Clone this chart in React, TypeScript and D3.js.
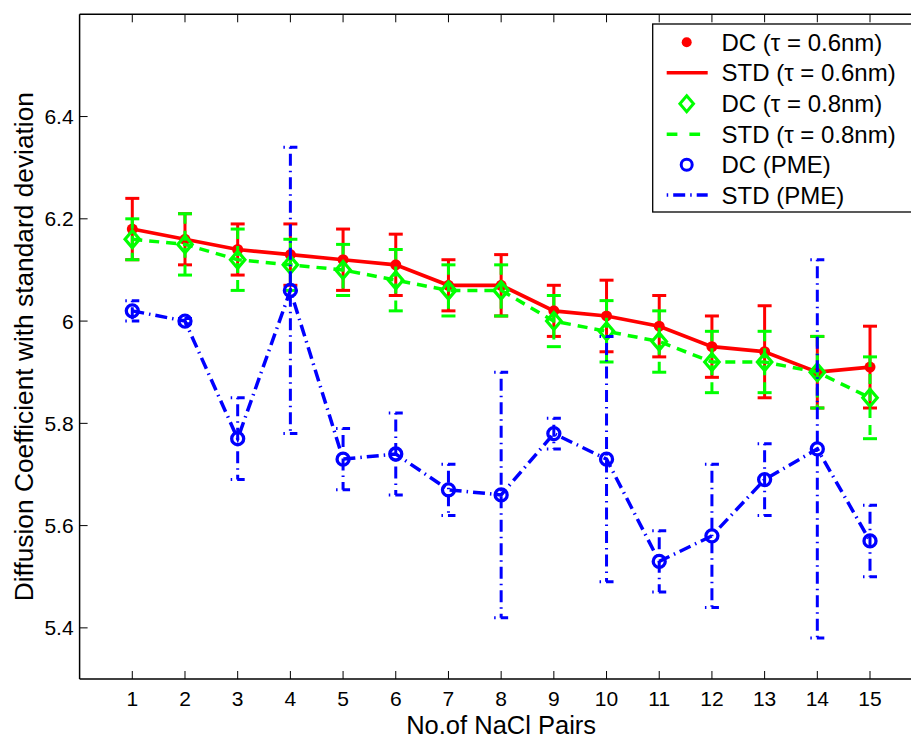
import React from "react";
import * as d3 from "d3";

const W = 911;
const H = 738;

const pairs = [1, 2, 3, 4, 5, 6, 7, 8, 9, 10, 11, 12, 13, 14, 15];
const dc06 = [6.18, 6.16, 6.14, 6.13, 6.12, 6.11, 6.07, 6.07, 6.02, 6.01, 5.99, 5.95, 5.94, 5.9, 5.91];
const std06 = [0.06, 0.05, 0.05, 0.06, 0.06, 0.06, 0.05, 0.06, 0.05, 0.07, 0.06, 0.06, 0.09, 0.07, 0.08];
const dc08 = [6.16, 6.15, 6.12, 6.11, 6.1, 6.08, 6.06, 6.06, 6.0, 5.98, 5.96, 5.92, 5.92, 5.9, 5.85];
const std08 = [0.04, 0.06, 0.06, 0.05, 0.05, 0.06, 0.05, 0.05, 0.05, 0.06, 0.06, 0.06, 0.06, 0.07, 0.08];
const dcPme = [6.02, 6.0, 5.77, 6.06, 5.73, 5.74, 5.67, 5.66, 5.78, 5.73, 5.53, 5.58, 5.69, 5.75, 5.57];
const stdPme = [0.02, 0.005, 0.08, 0.28, 0.06, 0.08, 0.05, 0.24, 0.03, 0.24, 0.06, 0.14, 0.07, 0.37, 0.07];

const yTicks = [5.4, 5.6, 5.8, 6.0, 6.2, 6.4];
const xTicks = [1, 2, 3, 4, 5, 6, 7, 8, 9, 10, 11, 12, 13, 14, 15];

const legendLabels = [
  "DC (τ = 0.6nm)",
  "STD (τ = 0.6nm)",
  "DC (τ = 0.8nm)",
  "STD (τ = 0.8nm)",
  "DC (PME)",
  "STD (PME)",
];

const FONT = "'Liberation Sans', Arial, Helvetica, sans-serif";
const RED = "#ff0000";
const GREEN = "#00ff00";
const BLUE = "#0000ff";
const GREEN_DASH = "10,7";
const BLUE_DASH = "12,5,1.5,5";

const x = d3.scaleLinear().domain([0, 16]).range([79.6, 922.7]);
const y = d3.scaleLinear().domain([5.3, 6.6]).range([679, 14.3]);

const CAP = 7;

function ErrorBars({ vals, errs, color, dash, capDash, offset }: any) {
  return (
    <g stroke={color} strokeWidth={3} fill="none">
      {pairs.map((p, i) => {
        const cx = x(p);
        const yt = y(vals[i] + errs[i]);
        const yb = y(vals[i] - errs[i]);
        return (
          <g key={i}>
            <line x1={cx} x2={cx} y1={yt} y2={yb} strokeDasharray={dash} strokeDashoffset={offset} />
            <line x1={cx - CAP} x2={cx + CAP} y1={yt} y2={yt} strokeDasharray={capDash} strokeDashoffset={offset} />
            <line x1={cx - CAP} x2={cx + CAP} y1={yb} y2={yb} strokeDasharray={capDash} strokeDashoffset={offset} />
          </g>
        );
      })}
    </g>
  );
}

function diamond(cx: number, cy: number, r: number) {
  return `M${cx},${cy - r}L${cx + r * 0.85},${cy}L${cx},${cy + r}L${cx - r * 0.85},${cy}Z`;
}

export default function App() {
  const line = d3
    .line<number>()
    .x((_, i) => x(pairs[i]))
    .y((d) => y(d));

  const legX = 652.7;
  const legTop = 24;
  const legBottom = 212;
  const rowY = [42.3, 72.8, 103.8, 134.3, 164.8, 195];
  const mX = 686.7;
  const l1 = 666.7;
  const l2 = 707.7;
  const tX = 721.5;

  return (
    <svg
      width={W}
      height={H}
      style={{ position: "absolute", left: 0, top: 0, background: "#fff" }}
      fontFamily={FONT}
    >
      <rect x={0} y={0} width={W} height={H} fill="#fff" />

      {/* red series */}
      <ErrorBars vals={dc06} errs={std06} color={RED} />
      <path d={line(dc06) || ""} stroke={RED} strokeWidth={3.7} fill="none" />
      {pairs.map((p, i) => (
        <circle key={"r" + i} cx={x(p)} cy={y(dc06[i])} r={5.5} fill={RED} />
      ))}

      {/* green series */}
      <ErrorBars vals={dc08} errs={std08} color={GREEN} dash={GREEN_DASH} />
      <path d={line(dc08) || ""} stroke={GREEN} strokeWidth={3.5} fill="none" strokeDasharray={GREEN_DASH} />
      {pairs.map((p, i) => (
        <path key={"g" + i} d={diamond(x(p), y(dc08[i]), 8.5)} stroke={GREEN} strokeWidth={3.2} fill="none" />
      ))}

      {/* blue series */}
      <ErrorBars vals={dcPme} errs={stdPme} color={BLUE} dash={BLUE_DASH} capDash={BLUE_DASH} offset={17} />
      <path d={line(dcPme) || ""} stroke={BLUE} strokeWidth={3.5} fill="none" strokeDasharray={BLUE_DASH} />
      {pairs.map((p, i) => (
        <circle key={"b" + i} cx={x(p)} cy={y(dcPme[i])} r={6} stroke={BLUE} strokeWidth={3.3} fill="none" />
      ))}

      {/* axes box */}
      <g stroke="#000" fill="none">
        <line x1={x(0)} x2={x(0)} y1={y(6.6)} y2={y(5.3)} strokeWidth={1.5} />
        <line x1={x(0)} x2={x(16)} y1={y(5.3)} y2={y(5.3)} strokeWidth={1.5} />
        <line x1={x(0)} x2={x(16)} y1={y(6.6)} y2={y(6.6)} strokeWidth={1.5} />
        <line x1={x(16)} x2={x(16)} y1={y(6.6)} y2={y(5.3)} strokeWidth={1.5} />
        {yTicks.map((t) => (
          <g key={"yt" + t}>
            <line x1={x(0)} x2={x(0) + 8} y1={y(t)} y2={y(t)} strokeWidth={1} />
            <line x1={x(16)} x2={x(16) - 8} y1={y(t)} y2={y(t)} strokeWidth={1} />
          </g>
        ))}
        {xTicks.map((t) => (
          <g key={"xt" + t}>
            <line x1={x(t)} x2={x(t)} y1={y(5.3)} y2={y(5.3) - 8} strokeWidth={1} />
            <line x1={x(t)} x2={x(t)} y1={y(6.6)} y2={y(6.6) + 8} strokeWidth={1} />
          </g>
        ))}
      </g>

      {/* tick labels */}
      <g fontSize={21} fill="#000">
        {yTicks.map((t) => (
          <text key={"yl" + t} x={x(0) - 6} y={y(t) + 7.5} textAnchor="end">
            {d3.format("~g")(t)}
          </text>
        ))}
        {xTicks.map((t) => (
          <text key={"xl" + t} x={x(t)} y={706} textAnchor="middle">
            {t}
          </text>
        ))}
      </g>

      {/* axis labels */}
      <text x={x(8)} y={734} textAnchor="middle" fontSize={25.5}>
        No.of NaCl Pairs
      </text>
      <text
        transform={`translate(33,${(y(6.6) + y(5.3)) / 2}) rotate(-90)`}
        textAnchor="middle"
        fontSize={26.3}
      >
        Diffusion Coefficient with standard deviation
      </text>

      {/* legend */}
      <rect
        x={legX}
        y={legTop}
        width={W - legX + 20}
        height={legBottom - legTop}
        fill="#fff"
        stroke="#000"
        strokeWidth={1.3}
      />
      <circle cx={mX} cy={rowY[0]} r={5} fill={RED} />
      <line x1={l1} x2={l2} y1={rowY[1]} y2={rowY[1]} stroke={RED} strokeWidth={3.5} />
      <path d={diamond(mX, rowY[2], 8)} stroke={GREEN} strokeWidth={3} fill="none" />
      <line x1={l1} x2={l2} y1={rowY[3]} y2={rowY[3]} stroke={GREEN} strokeWidth={3.5} strokeDasharray="10.7,12" />
      <circle cx={mX} cy={rowY[4]} r={5.5} stroke={BLUE} strokeWidth={3} fill="none" />
      <line x1={l1} x2={l2} y1={rowY[5]} y2={rowY[5]} stroke={BLUE} strokeWidth={3.5} strokeDasharray={BLUE_DASH} strokeDashoffset={17} />
      <g fontSize={24} fill="#000">
        {legendLabels.map((s, i) => (
          <text key={"lg" + i} x={tX} y={rowY[i] + 8.5}>
            {s}
          </text>
        ))}
      </g>
    </svg>
  );
}
